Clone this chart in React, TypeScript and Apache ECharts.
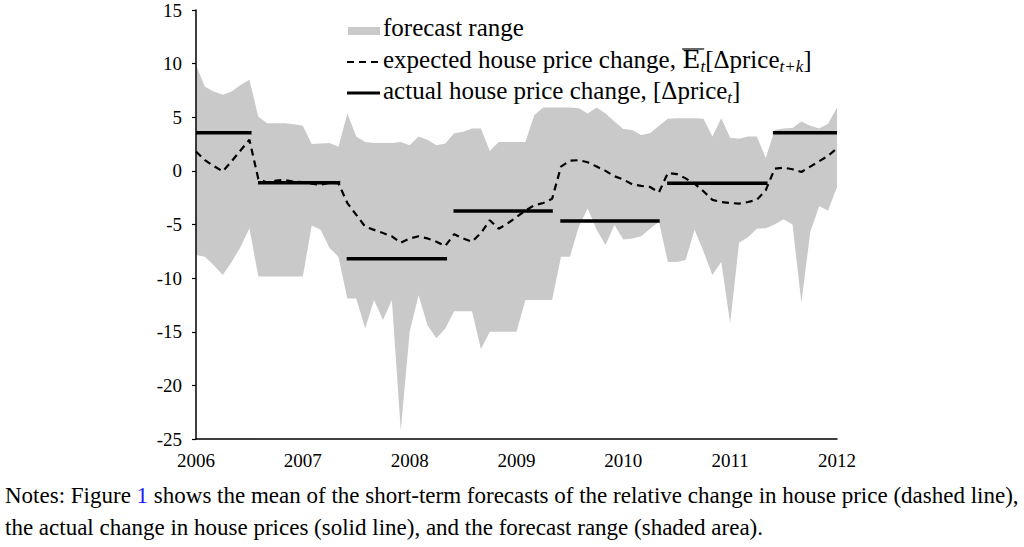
import React, { useEffect, useRef } from "react";
import * as echarts from "echarts";

// ---------- data ----------
const START_YEAR = 2006; // monthly observations, Jan 2006 .. Jan 2012

const upperBound = [
  9.9, 7.85, 7.4, 7.1, 7.4, 8.0, 8.5, 5.05, 4.45, 4.45, 4.45, 4.35,
  4.2, 2.5, 2.55, 2.6, 2.25, 5.35, 3.2, 2.7, 2.6, 2.6, 2.6, 2.7,
  2.4, 3.2, 2.9, 2.4, 2.55, 3.5, 3.65, 3.95, 3.95, 1.85, 2.7, 2.7,
  2.7, 2.7, 5.2, 5.9, 5.9, 5.9, 5.9, 5.85, 5.35, 5.9, 5.35, 4.6,
  3.9, 3.8, 3.35, 3.5, 4.2, 4.85, 4.9, 4.9, 4.9, 4.85, 3.2, 4.9,
  3.1, 3.0, 3.2, 3.2, 1.2, 3.8, 3.95, 4.0, 4.6, 4.2, 3.95, 4.4,
  5.9,
];

const lowerBound = [
  -7.85, -8.0, -8.8, -9.7, -8.5, -7.1, -5.35, -9.85, -9.85, -9.85, -9.85, -9.85,
  -9.85, -5.1, -5.5, -7.2, -8.0, -11.9, -11.9, -14.7, -12.05, -13.9, -12.05, -24.2,
  -15.0, -11.6, -14.4, -15.6, -14.7, -13.1, -13.1, -13.1, -16.6, -15.0, -15.0, -15.0,
  -15.0, -12.05, -12.05, -12.05, -12.05, -8.0, -8.0, -5.2, -3.5, -5.5, -6.9, -5.05,
  -6.4, -6.3, -6.1, -5.4, -4.75, -8.5, -8.5, -8.3, -5.5, -7.5, -9.7, -8.5,
  -14.2, -6.7, -6.2, -5.4, -5.35, -5.0, -4.5, -5.0, -12.3, -5.7, -3.3, -3.7,
  -1.5,
];

const expectedChange = [
  1.8, 1.0, 0.45, -0.05, 0.9, 1.9, 2.9, -0.75, -1.1, -0.9, -0.85, -1.0,
  -1.05, -1.2, -1.3, -1.1, -1.15, -3.0, -4.1, -5.2, -5.5, -5.8, -6.1, -6.7,
  -6.3, -6.1, -6.3, -6.6, -7.0, -5.9, -6.3, -6.6, -5.8, -4.6, -5.4, -4.9,
  -4.3, -3.7, -3.2, -3.0, -2.6, 0.4, 0.95, 1.0, 0.8, 0.4, 0.0, -0.5,
  -0.8, -1.25, -1.4, -1.5, -2.0, -0.2, -0.3, -0.7, -1.2, -1.9, -2.7, -2.9,
  -3.0, -3.05, -2.9, -2.7, -1.8, 0.2, 0.3, 0.15, -0.1, 0.4, 0.9, 1.4,
  2.1,
];

const actualStart = [2006.0, 2006.58, 2007.41, 2008.41, 2009.41, 2010.41, 2011.4];
const actualEnd = [2006.52, 2007.35, 2008.35, 2009.34, 2010.34, 2011.35, 2012.0];
const actualValue = [3.56, -1.1, -8.2, -3.75, -4.67, -1.16, 3.56];

const X_MIN = 2006;
const X_MAX = 2012;
const Y_MIN = -25;
const Y_MAX = 15;
const Y_STEP = 5;

const legendLabels = ["forecast range", "expected house price change, ", "actual house price change, "];
const notesLine1a = "Notes: Figure ";
const notesRef = "1";
const notesLine1b = " shows the mean of the short-term forecasts of the relative change in house price (dashed line),";
const notesLine2 = "the actual change in house prices (solid line), and the forecast range (shaded area).";

// ---------- styling ----------
const FONT = '"Liberation Serif", "Times New Roman", serif';
const SHADE = "#c9c9c9";
const INK = "#000000";

export default function App() {
  const ref = useRef<HTMLDivElement>(null);

  useEffect(() => {
    document.body.style.margin = "0";
    if (!ref.current) return;
    const chart = echarts.init(ref.current, undefined, { renderer: "svg" });

    const canvas = document.createElement("canvas");
    const ctx = canvas.getContext("2d")!;
    const measure = (t: string, size: number, style = "normal", family = FONT) => {
      ctx.font = `${style} ${size}px ${family}`;
      return ctx.measureText(t).width;
    };
    const CENTRAL = 0.3375; // central baseline offset above alphabetic baseline

    type Piece = { t: string; size: number; style?: string; dy?: number; fill?: string; family?: string };
    const graphics: any[] = [];
    const placeRow = (x0: number, baseline: number, pieces: Piece[]) => {
      let x = x0;
      const pos: number[] = [];
      pieces.forEach((p) => {
        const style = p.style || "normal";
        const fam = p.family || FONT;
        pos.push(x);
        graphics.push({
          type: "text",
          silent: true,
          style: {
            text: p.t,
            x,
            y: baseline + (p.dy || 0) - CENTRAL * p.size,
            fontSize: p.size,
            fontStyle: style,
            fontFamily: fam,
            fill: p.fill || INK,
            align: "left",
            verticalAlign: "middle",
          },
        });
        x += measure(p.t, p.size, style, fam);
      });
      pos.push(x);
      return pos;
    };

    const LS = 25; // legend font size
    const SUB = 17;
    const LX = 383;
    // row 1: forecast range
    graphics.push({ type: "rect", silent: true, shape: { x: 348, y: 27, width: 32, height: 8 }, style: { fill: SHADE } });
    placeRow(LX, 36, [{ t: legendLabels[0], size: LS }]);
    // row 2: expected
    graphics.push({
      type: "line", silent: true,
      shape: { x1: 347, y1: 62, x2: 382, y2: 62 },
      style: { stroke: INK, lineWidth: 2.2, lineDash: [7, 5] },
    });
    const p2 = placeRow(LX, 68, [
      { t: legendLabels[1], size: LS },
      { t: "E", size: LS, family: '"DejaVu Serif", serif' },
      { t: "t", size: SUB, style: "italic", dy: 4 },
      { t: "[Δprice", size: LS },
      { t: "t+k", size: SUB, style: "italic", dy: 4 },
      { t: "]", size: LS },
    ]);
    // double stroke for blackboard E and its bar
    graphics.push({
      type: "line", silent: true,
      shape: { x1: p2[1] + 4.2, y1: 68 - 16, x2: p2[1] + 4.2, y2: 68 - 1 },
      style: { stroke: INK, lineWidth: 1 },
    });
    graphics.push({
      type: "line", silent: true,
      shape: { x1: p2[1], y1: 68 - 19, x2: p2[3] - 1, y2: 68 - 19 },
      style: { stroke: INK, lineWidth: 1.2 },
    });
    // row 3: actual
    graphics.push({
      type: "line", silent: true,
      shape: { x1: 347, y1: 93, x2: 380, y2: 93 },
      style: { stroke: INK, lineWidth: 3 },
    });
    placeRow(LX, 99, [
      { t: legendLabels[2] + "[Δprice", size: LS },
      { t: "t", size: SUB, style: "italic", dy: 4 },
      { t: "]", size: LS },
    ]);

    // notes
    const target = 1014;
    const base = 22;
    const w = measure(notesLine1a + notesRef + notesLine1b, base);
    const NS = (base * target) / w;
    placeRow(5, 503, [
      { t: notesLine1a, size: NS },
      { t: notesRef, size: NS, fill: "#1a1aff" },
      { t: notesLine1b, size: NS },
    ]);
    placeRow(5, 535, [{ t: notesLine2, size: NS }]);

    const months = upperBound.map((_, i) => START_YEAR + i / 12);

    const axisLine = { show: true, onZero: false, lineStyle: { color: INK, width: 1.5 } };
    const labelStyle = { color: INK, fontSize: 19, fontFamily: FONT };

    const option: any = {
      animation: false,
      grid: { left: 196, right: 187, top: 10, bottom: 108, containLabel: false },
      xAxis: {
        type: "value",
        min: X_MIN,
        max: X_MAX,
        interval: 1,
        axisLine,
        axisTick: { show: false },
        splitLine: { show: false },
        axisLabel: { ...labelStyle, margin: 12, formatter: (v: number) => String(v) },
        z: 5,
      },
      yAxis: {
        type: "value",
        min: Y_MIN,
        max: Y_MAX,
        interval: Y_STEP,
        axisLine,
        axisTick: { show: true, inside: false, length: 4, lineStyle: { color: INK, width: 1.2 } },
        splitLine: { show: false },
        axisLabel: { ...labelStyle, margin: 14, formatter: (v: number) => String(v) },
        z: 5,
      },
      series: [
        {
          type: "custom",
          name: "forecast range",
          silent: true,
          clip: true,
          z: 1,
          data: months.map((x, i) => [x, lowerBound[i], upperBound[i]]),
          encode: { x: 0, y: [1, 2] },
          renderItem: (params: any, api: any) => {
            if (params.dataIndex !== 0) return null;
            const top = months.map((x, i) => api.coord([x, upperBound[i]]));
            const bottom = months.map((x, i) => api.coord([x, lowerBound[i]])).reverse();
            return {
              type: "polygon",
              shape: { points: top.concat(bottom) },
              style: { fill: SHADE, stroke: null },
            };
          },
        },
        {
          type: "line",
          name: "expected",
          data: months.map((x, i) => [x, expectedChange[i]]),
          symbol: "none",
          silent: true,
          lineStyle: { color: INK, width: 2.2, type: [7, 5] },
          z: 3,
        },
        ...actualStart.map((s, i) => ({
          type: "line",
          name: "actual",
          data: [
            [s, actualValue[i]],
            [actualEnd[i], actualValue[i]],
          ],
          symbol: "none",
          silent: true,
          lineStyle: { color: INK, width: 3.5 },
          z: 4,
        })),
      ],
      graphic: graphics,
    };

    chart.setOption(option);
    return () => chart.dispose();
  }, []);

  return (
    <div
      ref={ref}
      style={{ position: "absolute", left: 0, top: 0, width: 1024, height: 547, background: "#fff" }}
    />
  );
}
